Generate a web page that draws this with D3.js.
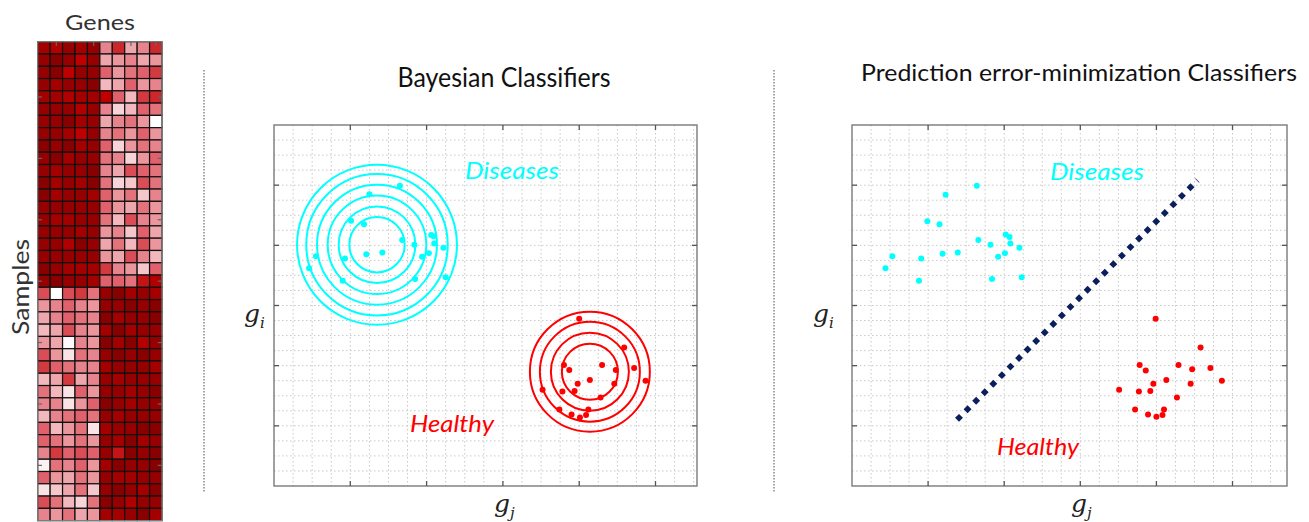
<!DOCTYPE html>
<html>
<head>
<meta charset="utf-8">
<title>classifiers sketch</title>
<script src="https://d3js.org/d3.v7.min.js"></script>
<style>
body { margin: 0; background: #fff; }
svg { display: block; }
</style>
</head>
<body>
<script>
// heatmap intensities (0 = white, 1 = darkest red), 10 genes per sample
const heatTop = [
  [0.85,0.80,0.90,0.85,0.90, 0.40,0.65,0.30,0.40,0.65],
  [0.90,0.95,0.90,0.75,0.90, 0.30,0.35,0.40,0.30,0.35],
  [0.90,0.95,0.75,0.90,0.90, 0.50,0.35,0.45,0.50,0.60],
  [0.90,0.85,0.90,0.90,0.95, 0.25,0.30,0.50,0.35,0.40],
  [0.85,0.85,0.80,0.85,0.85, 0.75,0.50,0.25,0.60,0.65],
  [0.90,0.90,0.90,0.80,0.90, 0.40,0.15,0.25,0.50,0.45],
  [0.90,0.90,0.95,0.85,0.90, 0.30,0.40,0.45,0.35,0.00],
  [0.90,0.90,0.85,0.75,0.90, 0.40,0.45,0.35,0.50,0.35],
  [0.95,0.90,0.95,0.85,0.90, 0.50,0.15,0.35,0.45,0.40],
  [0.90,0.95,0.85,0.90,0.90, 0.45,0.40,0.15,0.35,0.50],
  [0.90,0.85,0.90,0.90,0.95, 0.40,0.30,0.55,0.50,0.45],
  [0.95,0.85,0.90,0.85,0.95, 0.45,0.15,0.20,0.55,0.45],
  [0.95,0.85,0.90,0.90,0.85, 0.50,0.35,0.45,0.20,0.40],
  [0.90,0.90,0.90,0.90,0.90, 0.50,0.35,0.30,0.45,0.35],
  [0.90,0.85,0.85,0.90,0.90, 0.45,0.25,0.55,0.40,0.35],
  [0.90,0.90,0.90,0.85,0.90, 0.35,0.40,0.20,0.50,0.30],
  [0.90,0.90,0.80,0.95,0.90, 0.30,0.45,0.25,0.55,0.35],
  [0.90,0.90,0.90,0.90,0.90, 0.35,0.30,0.55,0.40,0.25],
  [0.95,0.90,0.85,0.85,0.85, 0.60,0.40,0.35,0.20,0.50],
  [0.90,0.95,0.90,0.90,0.85, 0.50,0.50,0.45,0.70,0.80]
];
const heatBottom = [
  [0.55,0.00,0.55,0.60,0.45, 0.90,0.95,0.85,0.90,0.85],
  [0.35,0.40,0.50,0.40,0.35, 0.90,0.90,0.95,0.90,0.95],
  [0.30,0.40,0.50,0.45,0.40, 0.95,0.85,0.90,0.90,0.95],
  [0.25,0.30,0.55,0.40,0.35, 0.85,0.95,0.85,0.90,0.90],
  [0.35,0.30,0.02,0.40,0.35, 0.95,0.85,0.95,0.80,0.90],
  [0.55,0.35,0.10,0.45,0.40, 0.90,0.95,0.90,0.95,0.90],
  [0.60,0.50,0.45,0.40,0.40, 0.85,0.90,0.90,0.90,0.85],
  [0.25,0.30,0.60,0.30,0.40, 0.90,0.85,0.90,0.90,0.90],
  [0.45,0.25,0.10,0.50,0.35, 0.90,0.90,0.85,0.90,0.95],
  [0.40,0.40,0.10,0.35,0.50, 0.95,0.90,0.85,0.90,0.90],
  [0.25,0.40,0.45,0.50,0.45, 0.90,0.85,0.90,0.90,0.90],
  [0.50,0.25,0.35,0.45,0.10, 0.85,0.90,0.90,0.95,0.95],
  [0.50,0.45,0.35,0.45,0.35, 0.90,0.85,0.95,0.85,0.90],
  [0.40,0.60,0.50,0.55,0.50, 0.90,0.70,0.95,0.90,0.95],
  [0.05,0.45,0.40,0.50,0.35, 0.85,0.95,0.90,0.90,0.95],
  [0.50,0.35,0.30,0.45,0.35, 0.90,0.85,0.85,0.90,0.90],
  [0.10,0.20,0.30,0.45,0.20, 0.90,0.95,0.90,0.85,0.95],
  [0.55,0.45,0.25,0.15,0.45, 0.95,0.90,0.80,0.90,0.90],
  [0.40,0.35,0.45,0.30,0.35, 0.85,0.85,0.90,0.95,0.85]
];
const heatRowTicks = [5, 10, 15, 20, 25, 30, 35];
const heatColTicks = [2, 5, 8, 10];

// Bayesian panel
const bayesDiseases = [
  [1.65,4.99],[1.25,4.85],[1.01,4.41],[1.18,4.35],[2.06,4.17],
  [2.09,4.15],[1.68,4.09],[1.84,4.01],[2.10,4.03],[2.22,3.96],
  [0.55,3.82],[1.21,3.85],[1.42,3.88],[0.93,3.78],[1.94,3.81],
  [2.03,3.87],[0.46,3.62],[0.90,3.41],[1.85,3.44],[2.25,3.47]
];
const bayesHealthy = [
  [4.00,2.78],[4.59,2.30],[3.80,2.01],[4.30,2.01],[3.87,1.93],
  [4.48,1.93],[4.72,1.96],[4.14,1.76],[3.98,1.70],[4.46,1.70],
  [4.87,1.75],[3.52,1.60],[3.78,1.57],[3.94,1.58],[4.28,1.47],
  [3.74,1.27],[4.12,1.27],[3.90,1.19],[4.01,1.14],[4.09,1.18]
];
const diseaseCenter = [1.35, 4.01];
const diseaseRadii = [0.363, 0.502, 0.646, 0.786, 0.927, 1.048];
const healthyCenter = [4.14, 1.90];
const healthyRadii = [0.367, 0.511, 0.655, 0.786];

// prediction error-minimization panel
const predDiseases = [
  [1.64,4.99],[1.23,4.84],[0.99,4.40],[1.15,4.35],[2.02,4.18],
  [2.07,4.14],[1.66,4.09],[1.82,4.01],[2.08,4.03],[2.20,3.96],
  [0.53,3.82],[1.19,3.86],[1.39,3.88],[0.91,3.78],[1.92,3.81],
  [2.01,3.87],[0.44,3.62],[0.88,3.41],[1.84,3.44],[2.23,3.47]
];
const predHealthy = [
  [3.99,2.78],[4.58,2.30],[3.78,2.01],[4.29,2.01],[3.86,1.92],
  [4.47,1.94],[4.71,1.96],[4.13,1.76],[3.96,1.70],[4.45,1.70],
  [4.86,1.75],[3.51,1.60],[3.77,1.57],[3.92,1.58],[4.27,1.47],
  [3.72,1.27],[4.10,1.27],[3.89,1.19],[4.00,1.15],[4.08,1.18]
];
const boundary = [[1.38,1.10],[4.54,5.08]];

const width = 1309, height = 522;
const cyan = "#00ffff", red = "#ff0000";
const uiFont = "Lato, 'Open Sans', sans-serif";

const svg = d3.select("body").append("svg")
    .attr("width", width)
    .attr("height", height);

// ---------- heatmap ----------
function drawHeatmap() {
  const rows = heatTop.concat(heatBottom);
  const color = d3.scaleLinear()
      .domain([0, 0.25, 0.5, 0.75, 1])
      .range(["#ffffff", "#f2b8bd", "#e0606b", "#c00000", "#7a0000"]);
  const hx = d3.scaleBand().domain(d3.range(10)).range([37.7, 162]);
  const hy = d3.scaleBand().domain(d3.range(rows.length)).range([41.7, 41.7 + rows.length * 12.28]);

  const g = svg.append("g");
  rows.forEach((row, i) => {
    g.selectAll(null)
      .data(row)
      .join("rect")
        .attr("x", (d, j) => hx(j))
        .attr("y", hy(i))
        .attr("width", hx.bandwidth())
        .attr("height", hy.bandwidth())
        .attr("fill", d => color(d))
        .attr("stroke", "#111")
        .attr("stroke-width", 1.2);
  });
  g.append("rect")
      .attr("x", 37.7).attr("y", 41.7)
      .attr("width", 162 - 37.7).attr("height", rows.length * 12.28)
      .attr("fill", "none").attr("stroke", "#808080").attr("stroke-width", 1.2);

  const tk = g.append("g").attr("stroke", "#666").attr("stroke-width", 1.2);
  heatRowTicks.forEach(r => {
    const yy = hy(r - 1) + hy.bandwidth() / 2;
    tk.append("line").attr("x1", 37.7).attr("x2", 42).attr("y1", yy).attr("y2", yy);
    tk.append("line").attr("x1", 162).attr("x2", 157.7).attr("y1", yy).attr("y2", yy);
  });
  heatColTicks.forEach(c => {
    const xx = hx(c - 1) + hx.bandwidth() / 2;
    tk.append("line").attr("x1", xx).attr("x2", xx).attr("y1", 41.7).attr("y2", 46);
  });

  svg.append("text")
      .attr("x", 100).attr("y", 30)
      .attr("text-anchor", "middle")
      .attr("font-family", uiFont)
      .attr("font-size", 22).attr("fill", "#333")
      .attr("textLength", 70)
      .attr("lengthAdjust", "spacingAndGlyphs")
      .text("Genes");
  svg.append("text")
      .attr("transform", "translate(29,287) rotate(-90)")
      .attr("text-anchor", "middle")
      .attr("font-family", uiFont)
      .attr("font-size", 24).attr("fill", "#333")
      .attr("textLength", 96)
      .attr("lengthAdjust", "spacingAndGlyphs")
      .text("Samples");
}

// ---------- scatter panels ----------
function makePanel(left, right, xMax) {
  const x = d3.scaleLinear().domain([0, xMax]).range([left, right]);
  const y = d3.scaleLinear().domain([0, 6]).range([486, 125]);
  const g = svg.append("g");

  // dotted grid at quarter steps
  const grid = g.append("g")
      .attr("stroke", "#c8c8c8").attr("stroke-width", 1)
      .attr("stroke-dasharray", "1.5,2.5");
  grid.selectAll("line.v")
    .data(d3.range(0.25, xMax, 0.25))
    .join("line")
      .attr("x1", d => x(d)).attr("x2", d => x(d))
      .attr("y1", y(6)).attr("y2", y(0));
  grid.selectAll("line.h")
    .data(d3.range(0.25, 6, 0.25))
    .join("line")
      .attr("x1", x(0)).attr("x2", x(xMax))
      .attr("y1", d => y(d)).attr("y2", d => y(d));

  // box
  g.append("rect")
      .attr("x", x(0)).attr("y", y(6))
      .attr("width", x(xMax) - x(0)).attr("height", y(0) - y(6))
      .attr("fill", "none").attr("stroke", "#7a7a7a").attr("stroke-width", 1.4);

  // inward ticks on all sides
  const tk = g.append("g").attr("stroke", "#555").attr("stroke-width", 1.3);
  d3.range(1, xMax).forEach(v => {
    tk.append("line").attr("x1", x(v)).attr("x2", x(v)).attr("y1", y(6)).attr("y2", y(6) + 5);
    tk.append("line").attr("x1", x(v)).attr("x2", x(v)).attr("y1", y(0)).attr("y2", y(0) - 5);
  });
  d3.range(1, 6).forEach(v => {
    tk.append("line").attr("x1", x(0)).attr("x2", x(0) + 5).attr("y1", y(v)).attr("y2", y(v));
    tk.append("line").attr("x1", x(xMax)).attr("x2", x(xMax) - 5).attr("y1", y(v)).attr("y2", y(v));
  });
  return { g, x, y };
}

function dots(p, data, fill) {
  p.g.append("g").selectAll("circle")
    .data(data)
    .join("circle")
      .attr("cx", d => p.x(d[0]))
      .attr("cy", d => p.y(d[1]))
      .attr("r", 3)
      .attr("fill", fill);
}

function rings(p, center, radii, stroke) {
  p.g.append("g").selectAll("circle")
    .data(radii)
    .join("circle")
      .attr("cx", p.x(center[0]))
      .attr("cy", p.y(center[1]))
      .attr("r", d => p.x(d) - p.x(0))
      .attr("fill", "none")
      .attr("stroke", stroke)
      .attr("stroke-width", 2);
}

function label(x, y, txt, fill, size, len) {
  svg.append("text")
      .attr("x", x).attr("y", y)
      .attr("font-family", "Lato, sans-serif")
      .attr("font-style", "italic")
      .attr("font-size", size)
      .attr("fill", fill)
      .attr("textLength", len)
      .attr("lengthAdjust", "spacingAndGlyphs")
      .text(txt);
}

function axisName(x, y, sub) {
  const t = svg.append("text")
      .attr("x", x).attr("y", y)
      .attr("font-family", "'DejaVu Serif', serif")
      .attr("font-style", "italic")
      .attr("font-size", 25)
      .attr("fill", "#222");
  t.append("tspan").text("g");
  t.append("tspan").attr("font-size", 15).attr("dy", 6).text(sub);
}

function title(cx, y, txt, size, len) {
  svg.append("text")
      .attr("x", cx).attr("y", y)
      .attr("text-anchor", "middle")
      .attr("font-family", uiFont)
      .attr("font-size", size)
      .attr("fill", "#111")
      .attr("textLength", len)
      .attr("lengthAdjust", "spacingAndGlyphs")
      .text(txt);
}

drawHeatmap();

// separators
[204, 774].forEach(sx => {
  svg.append("line")
      .attr("x1", sx).attr("x2", sx).attr("y1", 70).attr("y2", 492)
      .attr("stroke", "#888").attr("stroke-width", 1.5)
      .attr("stroke-dasharray", "1.5,1.5");
});

// Bayesian panel
const pa = makePanel(274, 697, 5.544);
rings(pa, diseaseCenter, diseaseRadii, cyan);
rings(pa, healthyCenter, healthyRadii, red);
dots(pa, bayesDiseases, cyan);
dots(pa, bayesHealthy, red);
title(504, 87, "Bayesian Classifiers", 26, 213);
label(465, 179, "Diseases", cyan, 24, 94);
label(410, 432, "Healthy", red, 24, 84);
axisName(244, 322, "i");
axisName(494, 512, "j");

// prediction error-minimization panel
const pb = makePanel(852, 1287, 5.716);
pb.g.append("path")
    .datum(boundary)
    .attr("d", d3.line().x(d => pb.x(d[0])).y(d => pb.y(d[1])))
    .attr("fill", "none")
    .attr("stroke", "#0b1f5c")
    .attr("stroke-width", 5.6)
    .attr("stroke-dasharray", "5.6,6.5")
    .attr("stroke-linecap", "butt");
dots(pb, predDiseases, cyan);
dots(pb, predHealthy, red);
title(1079, 81, "Prediction error-minimization Classifiers", 23.5, 436);
label(1050, 180, "Diseases", cyan, 24, 94);
label(997, 455, "Healthy", red, 24, 82);
axisName(813, 322, "i");
axisName(1071, 512, "j");
</script>
</body>
</html>
